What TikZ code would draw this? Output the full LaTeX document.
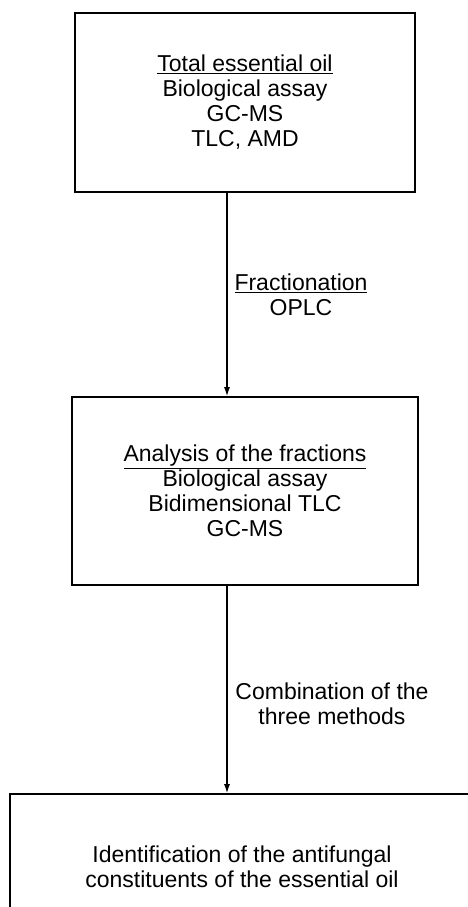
\documentclass[tikz,border=0pt]{standalone}
\usepackage{fontspec}
\setmainfont{Liberation Sans}
\usetikzlibrary{arrows.meta}
\begin{document}
\begin{tikzpicture}[x=1pt,y=-1pt,
  box/.style={draw,line width=1.6pt,rectangle,align=center,inner sep=0pt},
  lab/.style={align=center,inner sep=0pt},
  arr/.style={line width=1.3pt,-{Latex[length=9pt,width=6pt]}},
  every node/.style={font=\fontsize{23}{25}\selectfont}]
\useasboundingbox (0,0) rectangle (468,907);
\clip (0,0) rectangle (468,907);
\node[box,minimum width=340pt,minimum height=179pt] (box1) at (245,102.5)
  {\underline{Total essential oil}\\Biological assay\\GC-MS\\TLC, AMD};
\node[box,minimum width=346pt,minimum height=188pt] (box2) at (245,491)
  {\underline{Analysis of the fractions}\\Biological assay\\Bidimensional TLC\\GC-MS};
\node[box,minimum width=464pt,minimum height=146pt] (box3) at (242,867)
  {Identification of the antifungal\\constituents of the essential oil};
\node[lab] (lab1) at (301,294.5) {\underline{Fractionation}\\OPLC};
\node[lab] (lab2) at (332,703.5) {Combination of the\\three methods};
\coordinate (a1) at (227,0);
\draw[arr] (box1.south -| a1) -- (box2.north -| a1);
\draw[arr] (box2.south -| a1) -- (box3.north -| a1);
\end{tikzpicture}
\end{document}
